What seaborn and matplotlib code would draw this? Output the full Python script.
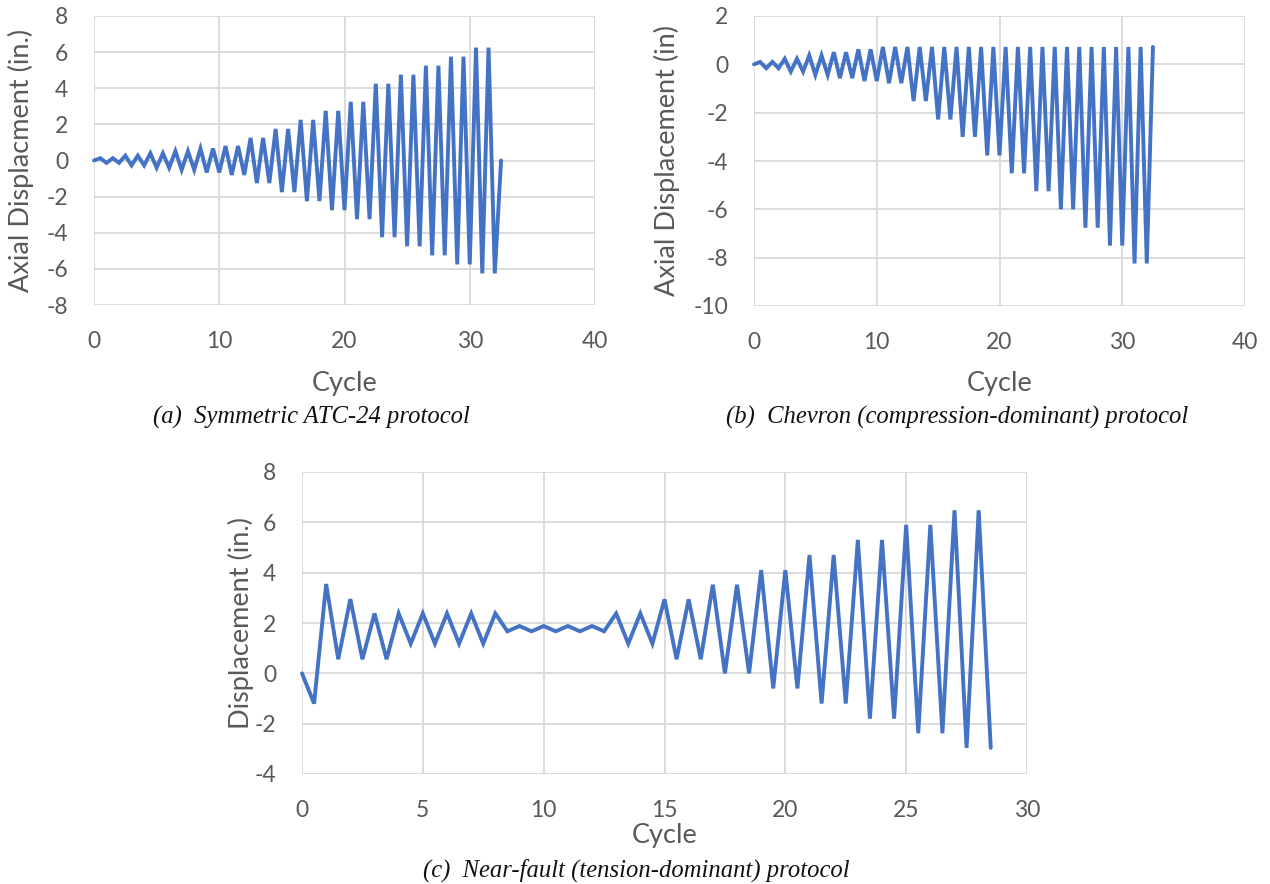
import numpy as np
import pandas as pd
import matplotlib
matplotlib.use("Agg")
import matplotlib.pyplot as plt
import seaborn as sns

# ---------------- data ----------------
# (a) Symmetric ATC-24 protocol (half-cycle points, 0.5 cycle apart)
cycle_a = np.arange(0, 32.5 + 0.25, 0.5)
disp_a = [0,
          0.13, -0.13, 0.13, -0.13, 0.27, -0.27, 0.27, -0.27,
          0.40, -0.40, 0.40, -0.40, 0.52, -0.52, 0.52, -0.52,
          0.66, -0.66, 0.66, -0.66, 0.80, -0.80, 0.80, -0.80,
          1.25, -1.25, 1.25, -1.25, 1.75, -1.75, 1.75, -1.75,
          2.25, -2.25, 2.25, -2.25, 2.75, -2.75, 2.75, -2.75,
          3.25, -3.25, 3.25, -3.25, 4.25, -4.25, 4.25, -4.25,
          4.75, -4.75, 4.75, -4.75, 5.25, -5.25, 5.25, -5.25,
          5.75, -5.75, 5.75, -5.75, 6.25, -6.25, 6.25, -6.25,
          0]

# (b) Chevron (compression-dominant) protocol
cycle_b = np.arange(0, 32.5 + 0.25, 0.5)
disp_b = [0,
          0.10, -0.16, 0.10, -0.16, 0.23, -0.30, 0.23, -0.30,
          0.37, -0.44, 0.37, -0.44, 0.50, -0.57, 0.50, -0.57,
          0.62, -0.69, 0.62, -0.69, 0.72, -0.78, 0.72, -0.78,
          0.72, -1.52, 0.72, -1.52, 0.72, -2.28, 0.72, -2.28,
          0.72, -3.00, 0.72, -3.00, 0.72, -3.77, 0.72, -3.77,
          0.72, -4.51, 0.72, -4.51, 0.72, -5.25, 0.72, -5.25,
          0.72, -6.00, 0.72, -6.00, 0.72, -6.76, 0.72, -6.76,
          0.72, -7.50, 0.72, -7.50, 0.72, -8.24, 0.72, -8.24,
          0.72]

# (c) Near-fault (tension-dominant) protocol
cycle_c = np.arange(0, 28.5 + 0.25, 0.5)
disp_c = [0, -1.20, 3.55, 0.56, 2.95, 0.56, 2.38, 0.56, 2.38, 1.18,
          2.38, 1.18, 2.38, 1.18, 2.38, 1.18, 2.38, 1.67, 1.88, 1.67,
          1.88, 1.67, 1.88, 1.67, 1.88, 1.67, 2.38, 1.18, 2.38, 1.18,
          2.94, 0.56, 2.94, 0.56, 3.52, 0.00, 3.52, 0.00, 4.10, -0.60,
          4.10, -0.60, 4.70, -1.20, 4.70, -1.20, 5.30, -1.80, 5.30, -1.80,
          5.90, -2.38, 5.90, -2.38, 6.48, -2.96, 6.48, -2.96]

xticks_ab = [0, 10, 20, 30, 40]
yticks_a = [-8, -6, -4, -2, 0, 2, 4, 6, 8]
yticks_b = [-10, -8, -6, -4, -2, 0, 2]
xticks_c = [0, 5, 10, 15, 20, 25, 30]
yticks_c = [-4, -2, 0, 2, 4, 6, 8]

caption_a = "(a)  Symmetric ATC-24 protocol"
caption_b = "(b)  Chevron (compression-dominant) protocol"
caption_c = "(c)  Near-fault (tension-dominant) protocol"

# ---------------- style ----------------
sns.set_theme(style="white")
plt.rcParams['font.family'] = ['Lato', 'DejaVu Sans']

LINE = "#4472C4"
GRID = "#D9D9D9"
TXT = "#595959"
W, H = 1270, 884

fig = plt.figure(figsize=(W / 100, H / 100), dpi=100)


def px_axes(l, r, t, b):
    return fig.add_axes([l / W, 1 - b / H, (r - l) / W, (b - t) / H]), (l, r, t, b)


def style(axinfo, xt, yt, ylabel, ylab_x, xlab_y):
    ax, (l, r, t, b) = axinfo
    ax.set_xlim(xt[0], xt[-1])
    ax.set_ylim(yt[0], yt[-1])
    ax.set_xticks(xt)
    ax.set_yticks(yt)
    ax.set_xticklabels([str(v) for v in xt])
    ax.set_yticklabels([str(v) for v in yt])
    ax.grid(True, color=GRID, linewidth=1.3)
    ax.set_axisbelow(True)
    for s in ax.spines.values():
        s.set_visible(False)
    ax.tick_params(axis='both', length=0, labelsize=16.5, colors=TXT)
    ax.tick_params(axis='x', pad=19)
    ax.tick_params(axis='y', pad=18.5)
    ax.set_xlabel("Cycle", fontsize=19.5, color=TXT, va='center')
    ax.set_ylabel(ylabel, fontsize=19.5, color=TXT, va='center')
    ax.xaxis.set_label_coords(0.5, -(xlab_y - b) / (b - t))
    ax.yaxis.set_label_coords(-(l - ylab_x) / (r - l), 0.5)


def draw(axinfo, x, y):
    ax = axinfo[0]
    df = pd.DataFrame({"Cycle": x, "Disp": y})
    sns.lineplot(data=df, x="Cycle", y="Disp", ax=ax, color=LINE,
                 linewidth=2.8, sort=False, estimator=None, clip_on=False)
    ax.lines[-1].set_solid_joinstyle('miter')


ax_a = px_axes(94, 595, 16, 305)
draw(ax_a, cycle_a, disp_a)
style(ax_a, xticks_ab, yticks_a, "Axial Displacment (in.)", 21, 383)

ax_b = px_axes(754, 1245, 16, 306)
draw(ax_b, cycle_b, disp_b)
style(ax_b, xticks_ab, yticks_b, "Axial Displacement (in)", 667, 383)

ax_c = px_axes(302, 1027, 472, 774)
draw(ax_c, cycle_c, disp_c)
style(ax_c, xticks_c, yticks_c, "Displacement (in.)", 241, 836)

cap_kw = dict(fontsize=17.7, style='italic', family=['Liberation Serif'],
              color='#111111', ha='center', va='center')
fig.text(311 / W, 1 - 417 / H, caption_a, **cap_kw)
fig.text(957 / W, 1 - 417 / H, caption_b, **cap_kw)
fig.text(636 / W, 1 - 870 / H, caption_c, **cap_kw)

fig.savefig("out.png", dpi=100)
